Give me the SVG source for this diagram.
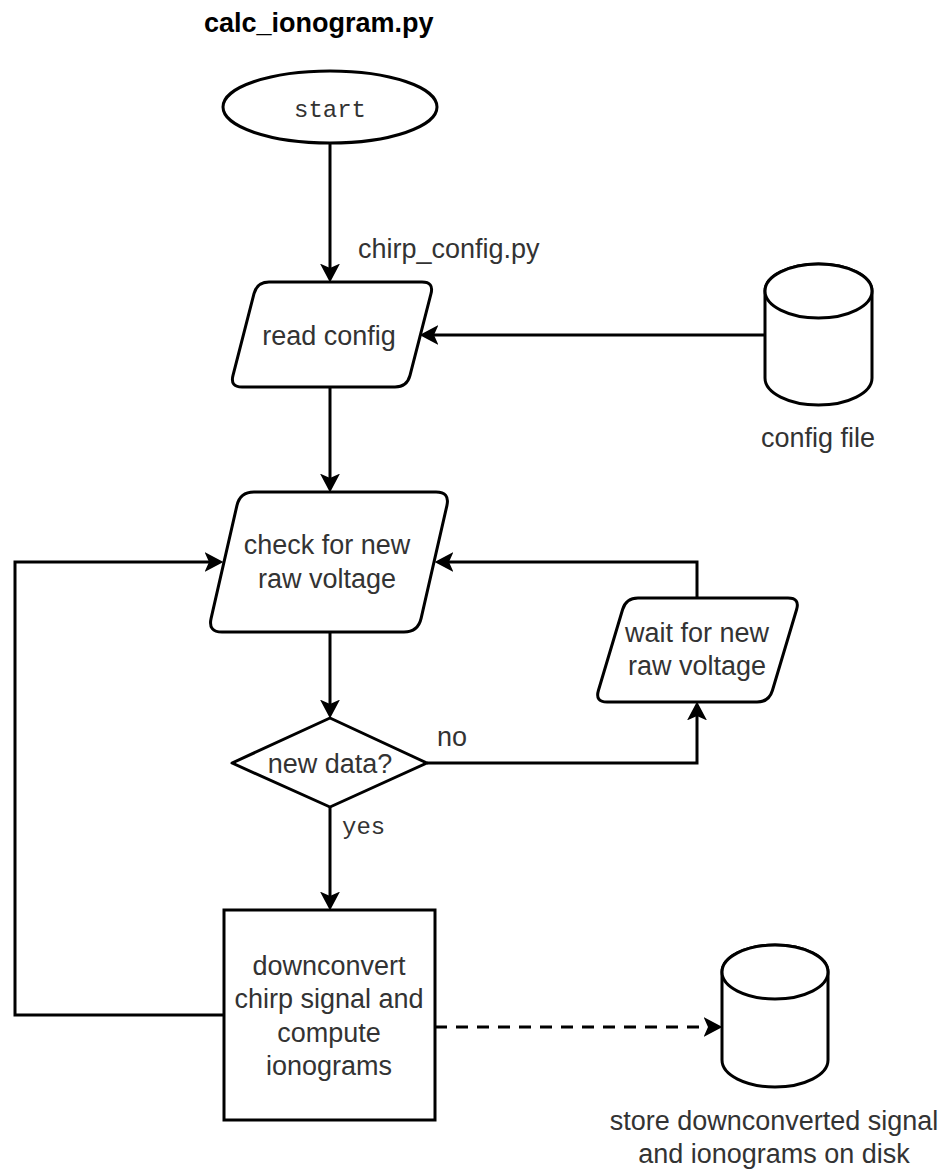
<svg xmlns="http://www.w3.org/2000/svg" width="951" height="1171" viewBox="0 0 951 1171">
<style>
.shape{fill:#fff;stroke:#000;stroke-width:3;stroke-linejoin:round}
.edge{fill:none;stroke:#000;stroke-width:3}
.dash{stroke-dasharray:12 9}
.t{font-family:"Liberation Sans",Arial,sans-serif;font-size:27px;fill:#333;text-anchor:middle}
.m{font-family:"Liberation Mono","DejaVu Sans Mono",monospace;font-size:24px;fill:#333}
.title{font-family:"Liberation Sans",Arial,sans-serif;font-size:27px;font-weight:bold;fill:#000}
</style>
<defs>
<marker id="arr" markerUnits="userSpaceOnUse" markerWidth="20" markerHeight="20" viewBox="0 0 18 18" refX="13" refY="9" orient="auto">
<path d="M0,0 L17,9 L0,18 L4,9 Z" fill="#000"/>
</marker>
</defs>
<rect width="951" height="1171" fill="#fff"/>
<text class="title" x="204" y="32">calc_ionogram.py</text>

<g id="connectors">
<path class="edge" d="M330,143 L330,278" marker-end="url(#arr)"/>
<text class="t" x="358" y="258" style="text-anchor:start">chirp_config.py</text>
<path class="edge" d="M765,335 L424,335" marker-end="url(#arr)"/>
<path class="edge" d="M330,387 L330,488" marker-end="url(#arr)"/>
<path class="edge" d="M330,632 L330,714" marker-end="url(#arr)"/>
<path class="edge" d="M330,807 L330,906" marker-end="url(#arr)"/>
<text class="m" x="342" y="834">yes</text>
<path class="edge" d="M427,763 L697,763 L697,706" marker-end="url(#arr)"/>
<text class="t" x="437" y="746" style="text-anchor:start">no</text>
<path class="edge" d="M697,598 L697,562 L439,562" marker-end="url(#arr)"/>
<path class="edge" d="M224,1015 L15,1015 L15,562 L219,562" marker-end="url(#arr)"/>
<path class="edge dash" d="M435,1027 L718,1027" marker-end="url(#arr)"/>
</g>

<g id="start">
<ellipse class="shape" cx="330" cy="107" rx="107" ry="36"/>
<text class="m" x="330" y="117" text-anchor="middle">start</text>
</g>

<g id="read-config">
<path class="shape" d="M269,282 L422,282 Q434,282 431,293.6 L410,375.4 Q407,387 395,387 L242,387 Q230,387 233,375.4 L254,293.6 Q257,282 269,282 Z"/>
<text class="t" x="329" y="345">read config</text>
</g>

<g id="config-file">
<path class="shape" d="M765,291 L765,378 A53.5,27 0 0 0 872,378 L872,291 A53.5,27 0 0 0 765,291 Z"/>
<ellipse class="shape" cx="818.5" cy="291" rx="53.5" ry="27"/>
<text class="t" x="818" y="447">config file</text>
</g>

<g id="check">
<path class="shape" d="M254,492 L436,492 Q450,492 446.9,505.6 L421.1,618.4 Q418,632 404,632 L222,632 Q208,632 211.1,618.4 L236.9,505.6 Q240,492 254,492 Z"/>
<text class="t" x="327" y="554">check for new</text>
<text class="t" x="327" y="588">raw voltage</text>
</g>

<g id="wait">
<path class="shape" d="M638,598 L788,598 Q800,598 796.6,609.5 L772.4,690.5 Q769,702 757,702 L607,702 Q595,702 598.4,690.5 L622.6,609.5 Q626,598 638,598 Z"/>
<text class="t" x="697" y="642">wait for new</text>
<text class="t" x="697" y="675">raw voltage</text>
</g>

<g id="decision">
<path class="shape" d="M232,763 L330,718 L427,763 L330,807 Z"/>
<text class="t" x="330" y="773">new data?</text>
</g>

<g id="process">
<rect class="shape" x="224" y="910" width="211" height="210" style="stroke-linejoin:miter"/>
<text class="t" x="329" y="975">downconvert</text>
<text class="t" x="329" y="1008">chirp signal and</text>
<text class="t" x="329" y="1042">compute</text>
<text class="t" x="329" y="1075">ionograms</text>
</g>

<g id="store">
<path class="shape" d="M722,972 L722,1060 A53,27 0 0 0 828,1060 L828,972 A53,27 0 0 0 722,972 Z"/>
<ellipse class="shape" cx="775" cy="972" rx="53" ry="27"/>
<text class="t" x="774" y="1130">store downconverted signal</text>
<text class="t" x="774" y="1163">and ionograms on disk</text>
</g>
</svg>
